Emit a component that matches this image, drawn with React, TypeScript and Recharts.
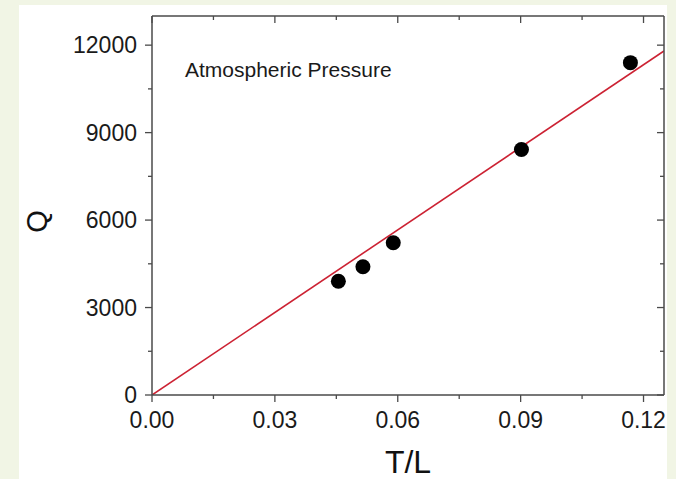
import {
  ComposedChart,
  Scatter,
  Line,
  XAxis,
  YAxis,
} from "recharts";

// measured points
const ratioTL = [0.0455, 0.0515, 0.0589, 0.0902, 0.1168];
const heatQ = [3900, 4400, 5220, 8420, 11400];

// linear fit through origin
const fitTL = [0, 0.125];
const fitQ = [0, 11800];

const xMajor = [0, 0.03, 0.06, 0.09, 0.12];
const xMinor = [0.015, 0.045, 0.075, 0.105];
const yMajor = [0, 3000, 6000, 9000, 12000];
const yMinor = [1500, 4500, 7500, 10500];

const points = ratioTL.map((x, i) => ({ x, q: heatQ[i] }));
const fitLine = fitTL.map((x, i) => ({ x, q: fitQ[i] }));
const xTicks = [...xMajor, ...xMinor].sort((a, b) => a - b);
const yTicks = [...yMajor, ...yMinor].sort((a, b) => a - b);

const FONT = "'Liberation Sans', Arial, sans-serif";
const AXIS = "#4a4a4a";
const MAJOR = 7;
const MINOR = 4;

const isMajorX = (v: number) => xMajor.some((m) => Math.abs(m - v) < 1e-9);
const isMajorY = (v: number) => yMajor.includes(v);

const BottomTick = (props: any) => {
  const { x, y, payload } = props;
  const major = isMajorX(payload.value);
  return (
    <g>
      <line x1={x} y1={y} x2={x} y2={y + (major ? MAJOR : MINOR)} stroke={AXIS} strokeWidth={1.3} />
      {major && (
        <text x={x} y={y + 33} textAnchor="middle" fontSize={23} fontFamily={FONT} fill="#1a1a1a">
          {payload.value.toFixed(2)}
        </text>
      )}
    </g>
  );
};

const TopTick = (props: any) => {
  const { x, y, payload } = props;
  const major = isMajorX(payload.value);
  return (
    <line x1={x} y1={y} x2={x} y2={y + (major ? MAJOR : MINOR)} stroke={AXIS} strokeWidth={1.3} />
  );
};

const LeftTick = (props: any) => {
  const { x, y, payload } = props;
  const major = isMajorY(payload.value);
  return (
    <g>
      <line x1={x - (major ? MAJOR : MINOR)} y1={y} x2={x} y2={y} stroke={AXIS} strokeWidth={1.3} />
      {major && (
        <text x={x - 15} y={y + 8} textAnchor="end" fontSize={23} fontFamily={FONT} fill="#1a1a1a">
          {payload.value}
        </text>
      )}
    </g>
  );
};

const RightTick = (props: any) => {
  const { x, y, payload } = props;
  const major = isMajorY(payload.value);
  return (
    <line x1={x - (major ? MAJOR : MINOR)} y1={y} x2={x} y2={y} stroke={AXIS} strokeWidth={1.3} />
  );
};

export default function App() {
  return (
    <div
      style={{
        position: "fixed",
        left: 0,
        top: 0,
        width: 676,
        height: 479,
        background: "#f1f5e5",
        overflow: "hidden",
      }}
    >
      <div
        style={{
          position: "absolute",
          left: 19,
          top: 5,
          width: 648,
          height: 474,
          background: "#fff",
        }}
      />
      <div style={{ position: "absolute", left: 0, top: 0 }}>
        <ComposedChart
          width={676}
          height={479}
          margin={{ top: 15, right: 11, bottom: 83, left: 151 }}
        >
          <XAxis
            xAxisId="bottom"
            dataKey="x"
            type="number"
            domain={[0, 0.125]}
            allowDataOverflow
            ticks={xTicks}
            interval={0}
            height={1}
            tickSize={0}
            tickMargin={0}
            tick={<BottomTick />}
            axisLine={{ stroke: AXIS, strokeWidth: 1.5 }}
            label={{
              content: (p: any) => (
                <text
                  x={p.viewBox.x + p.viewBox.width / 2}
                  y={p.viewBox.y + 78}
                  textAnchor="middle"
                  fontSize={32}
                  fontFamily={FONT}
                  fill="#111"
                >
                  T/L
                </text>
              ),
            }}
          />
          <XAxis
            xAxisId="top"
            orientation="top"
            dataKey="x"
            type="number"
            domain={[0, 0.125]}
            allowDataOverflow
            ticks={xTicks}
            interval={0}
            height={1}
            tickSize={0}
            tickMargin={0}
            tick={<TopTick />}
            axisLine={{ stroke: AXIS, strokeWidth: 1.5 }}
          />
          <YAxis
            yAxisId="left"
            type="number"
            domain={[0, 13000]}
            allowDataOverflow
            ticks={yTicks}
            interval={0}
            width={1}
            tickSize={0}
            tickMargin={0}
            tick={<LeftTick />}
            axisLine={{ stroke: AXIS, strokeWidth: 1.5 }}
            label={{
              content: (p: any) => {
                const cx = 37;
                const cy = p.viewBox.y + p.viewBox.height / 2 + 16;
                return (
                  <text
                    x={cx}
                    y={cy}
                    textAnchor="middle"
                    dominantBaseline="central"
                    fontSize={29}
                    fontFamily={FONT}
                    fill="#111"
                    transform={`rotate(-90, ${cx}, ${cy})`}
                  >
                    Q
                  </text>
                );
              },
            }}
          />
          <YAxis
            yAxisId="right"
            orientation="right"
            type="number"
            domain={[0, 13000]}
            allowDataOverflow
            ticks={yTicks}
            interval={0}
            width={1}
            tickSize={0}
            tickMargin={0}
            tick={<RightTick />}
            axisLine={{ stroke: AXIS, strokeWidth: 1.5 }}
          />
          <Line
            xAxisId="bottom"
            yAxisId="left"
            data={fitLine}
            dataKey="q"
            stroke="#cc2233"
            strokeWidth={1.6}
            dot={false}
            activeDot={false}
            isAnimationActive={false}
          />
          <Scatter
            xAxisId="bottom"
            yAxisId="left"
            data={points}
            dataKey="q"
            isAnimationActive={false}
            shape={(p: any) => <circle cx={p.cx} cy={p.cy} r={7.5} fill="#000" />}
          />
          <text x={185} y={77} fontSize={21} fontFamily={FONT} fill="#1a1a1a">
            Atmospheric Pressure
          </text>
        </ComposedChart>
      </div>
    </div>
  );
}
